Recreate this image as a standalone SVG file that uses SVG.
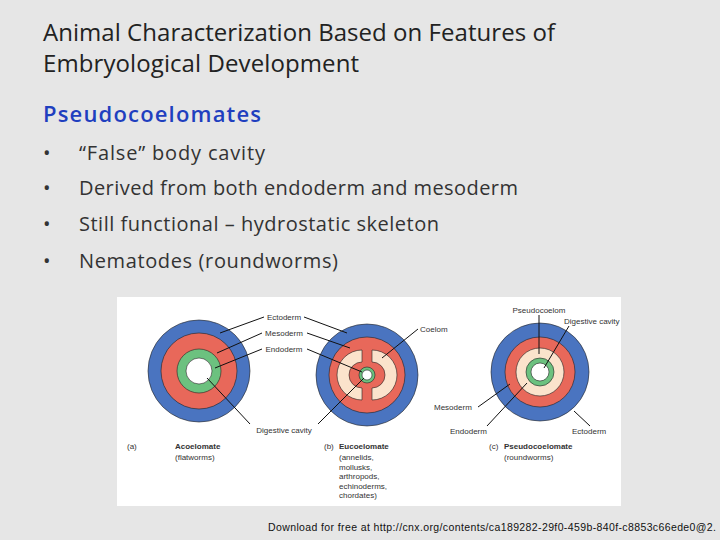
<svg xmlns="http://www.w3.org/2000/svg" width="720" height="540" viewBox="0 0 720 540">
<style>
.t{font-family:"Open Sans","Liberation Sans",sans-serif;fill:#222}
.b{font-family:"Open Sans","Liberation Sans",sans-serif;fill:#333;font-size:20px}
.l{font-family:"Liberation Sans",Arial,sans-serif;font-size:8px;fill:#333}
.lb{font-family:"Liberation Sans",Arial,sans-serif;font-size:8px;fill:#333;font-weight:bold}
.ln{stroke:#111;stroke-width:1;fill:none}
.ec{fill:#4a74c0;stroke:#222;stroke-width:.6}
.me{fill:#e8685a;stroke:#222;stroke-width:.6}
.en{fill:#6cc17f;stroke:#222;stroke-width:.6}
.cr{fill:#fbe3cc;stroke:#222;stroke-width:.6}
.wh{fill:#fff;stroke:#222;stroke-width:.6}
</style>
<rect width="720" height="540" fill="#e6e6e6"/>
<text class="t" x="43" y="41" font-size="24" textLength="512">Animal Characterization Based on Features of</text>
<text class="t" x="43" y="72" font-size="24" textLength="316">Embryological Development</text>
<text x="43" y="122" font-family="Open Sans,Liberation Sans,sans-serif" font-size="22" font-weight="600" fill="#1f3fbf" textLength="218">Pseudocoelomates</text>
<g class="b">
<text x="43" y="160">•</text><text x="79" y="160" textLength="186">“False” body cavity</text>
<text x="43" y="195">•</text><text x="79" y="195" textLength="439">Derived from both endoderm and mesoderm</text>
<text x="43" y="231">•</text><text x="79" y="231" textLength="360">Still functional – hydrostatic skeleton</text>
<text x="43" y="268">•</text><text x="79" y="268" textLength="259">Nematodes (roundworms)</text>
</g>
<rect x="117" y="297" width="504" height="209" fill="#fff"/>
<g id="acoelomate">
<circle class="ec" cx="199" cy="371" r="51"/>
<circle class="me" cx="199" cy="371" r="38"/>
<circle class="en" cx="199" cy="371" r="22"/>
<circle class="wh" cx="199" cy="371" r="13"/>
<text class="l" x="127" y="449">(a)</text>
<text class="lb" x="175" y="449">Acoelomate</text>
<text class="l" x="175" y="460">(flatworms)</text>
</g>
<g id="eucoelomate">
<circle class="ec" cx="367" cy="375" r="51"/>
<circle class="me" cx="367" cy="375" r="38"/>
<path class="cr" d="M362,350 A25,25 0 0 0 362,400 L362,388 A13,13 0 0 1 362,362 Z"/>
<path class="cr" d="M372,350 A25,25 0 0 1 372,400 L372,388 A13,13 0 0 0 372,362 Z"/>
<circle class="en" cx="367" cy="375" r="8"/>
<circle class="wh" cx="367" cy="375" r="5"/>
<text class="l" x="324" y="449">(b)</text>
<text class="lb" x="339" y="449">Eucoelomate</text>
<text class="l" x="339" y="460">(annelids,</text>
<text class="l" x="339" y="469.5">mollusks,</text>
<text class="l" x="339" y="479">arthropods,</text>
<text class="l" x="339" y="488.5">echinoderms,</text>
<text class="l" x="339" y="498">chordates)</text>
</g>
<g id="pseudocoelomate">
<circle class="ec" cx="540" cy="372" r="49"/>
<circle class="me" cx="540" cy="372" r="35"/>
<circle class="cr" cx="540" cy="372" r="24"/>
<circle class="en" cx="540" cy="372" r="14"/>
<circle class="wh" cx="540" cy="372" r="9"/>
<text class="l" x="489" y="449">(c)</text>
<text class="lb" x="504" y="449">Pseudocoelomate</text>
<text class="l" x="504" y="460">(roundworms)</text>
</g>
<g id="labels">
<text class="l" x="284" y="320" text-anchor="middle">Ectoderm</text>
<text class="l" x="284" y="336" text-anchor="middle">Mesoderm</text>
<text class="l" x="284" y="352" text-anchor="middle">Endoderm</text>
<text class="l" x="284" y="433" text-anchor="middle">Digestive cavity</text>
<text class="l" x="420" y="332">Coelom</text>
<text class="l" x="539" y="313" text-anchor="middle">Pseudocoelom</text>
<text class="l" x="564" y="324">Digestive cavity</text>
<text class="l" x="434" y="410">Mesoderm</text>
<text class="l" x="450" y="434">Endoderm</text>
<text class="l" x="572" y="434">Ectoderm</text>
</g>
<g id="connectors" class="ln">
<line x1="264" y1="317" x2="220" y2="333"/>
<line x1="304" y1="317" x2="347" y2="333"/>
<line x1="262" y1="333" x2="217" y2="353"/>
<line x1="307" y1="333" x2="350" y2="348"/>
<line x1="262" y1="349" x2="215" y2="368"/>
<line x1="307" y1="349" x2="362" y2="372"/>
<line x1="207" y1="378" x2="250" y2="424"/>
<line x1="318" y1="424" x2="364" y2="378"/>
<line x1="418" y1="329" x2="382" y2="358"/>
<line x1="539" y1="315" x2="539" y2="354"/>
<line x1="569" y1="326" x2="544" y2="368"/>
<line x1="478" y1="407" x2="510" y2="384"/>
<line x1="487" y1="426" x2="527" y2="383"/>
<line x1="590" y1="426" x2="574" y2="411"/>
</g>
<text x="268" y="531" font-family="Liberation Sans,Arial,sans-serif" font-size="10.5" fill="#111" textLength="448">Download for free at http://cnx.org/contents/ca189282-29f0-459b-840f-c8853c66ede0@2.</text>
</svg>
